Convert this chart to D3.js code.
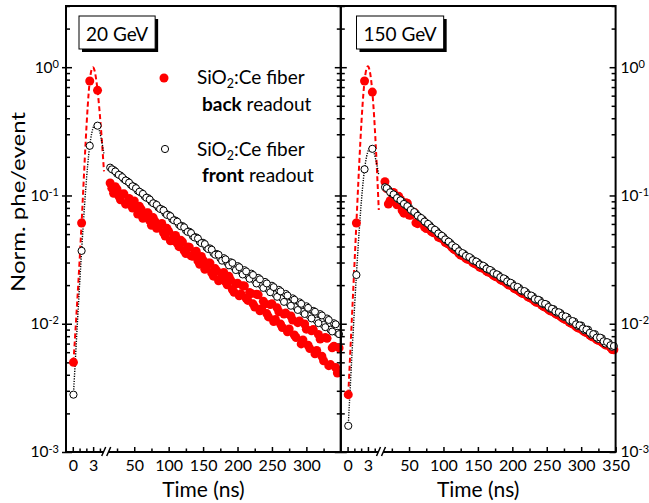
<!DOCTYPE html>
<html>
<head>
<meta charset="utf-8">
<script src="https://cdn.jsdelivr.net/npm/d3@7"></script>
<style>
  body { margin: 0; background: #fff; }
  svg { font-family: Lato, "Open Sans", sans-serif; }
</style>
</head>
<body>
<div id="chart"></div>
<script>
// Data (normalised phe/event vs time in ns)

// short segment of the broken x axis (rise of the pulse)
const peakTime = [0.1, 1.3, 2.5, 3.65, 4.6];
const back20Peak = [0.0050, 0.061, 0.78, 0.66, 0.154];
const front20Peak = [0.0028, 0.037, 0.244, 0.35, 0.21];
const back150Peak = [0.0028, 0.061, 0.78, 0.64, 0.077];
const front150Peak = [0.0016, 0.024, 0.16, 0.231, 0.144];

// long segment (decay tail), sampled on two interleaved time grids
const decayTime = [15, 20, 25, 30, 35, 40, 45, 50, 55, 60, 65, 70, 75, 80, 85, 90, 95, 100,
  105, 110, 115, 120, 125, 130, 135, 140, 145, 150, 155, 160, 165, 170, 175, 180, 185, 190,
  195, 200, 205, 210, 215, 220, 225, 230, 235, 240, 245, 250, 255, 260, 265, 270, 275, 280,
  285, 290, 295, 300, 305, 310, 315, 320, 325, 330, 335, 340, 345];
const decayTimeMid = [17.5, 22.5, 27.5, 32.5, 37.5, 42.5, 47.5, 52.5, 57.5, 62.5, 67.5, 72.5,
  77.5, 82.5, 87.5, 92.5, 97.5, 102.5, 107.5, 112.5, 117.5, 122.5, 127.5, 132.5, 137.5, 142.5,
  147.5, 152.5, 157.5, 162.5, 167.5, 172.5, 177.5, 182.5, 187.5, 192.5, 197.5, 202.5, 207.5,
  212.5, 217.5, 222.5, 227.5, 232.5, 237.5, 242.5, 247.5, 252.5, 257.5, 262.5, 267.5, 272.5,
  277.5, 282.5, 287.5, 292.5, 297.5, 302.5, 307.5, 312.5, 317.5, 322.5, 327.5, 332.5, 337.5,
  342.5, 347.5];

const front20Decay = [0.165, 0.158, 0.148, 0.143, 0.134, 0.129, 0.121, 0.117, 0.109, 0.105,
  0.0985, 0.0955, 0.0890, 0.0860, 0.0805, 0.0780, 0.0728, 0.0705, 0.0655, 0.0638, 0.0592,
  0.0578, 0.0535, 0.0522, 0.0482, 0.0472, 0.0436, 0.0428, 0.0393, 0.0387, 0.0355, 0.0350,
  0.0324, 0.0325, 0.0300, 0.0302, 0.0276, 0.0282, 0.0256, 0.0262, 0.0236, 0.0246, 0.0218,
  0.0228, 0.0200, 0.0212, 0.0185, 0.0198, 0.0170, 0.0184, 0.0158, 0.0171, 0.0145, 0.0158,
  0.0135, 0.0147, 0.0124, 0.0137, 0.0115, 0.0126, 0.0106, 0.0119, 0.0098, 0.0110, 0.0090,
  0.0101, 0.0085];
const front20Mid = [0.160, 0.154, 0.145, 0.139, 0.131, 0.126, 0.118, 0.114, 0.107, 0.103,
  0.0960, 0.0930, 0.0870, 0.0845, 0.0785, 0.0765, 0.0705, 0.0690, 0.0640, 0.0625, 0.0575,
  0.0565, 0.0520, 0.0510, 0.0470, 0.0462, 0.0425, 0.0418, 0.0382, 0.0378, 0.0345, 0.0345,
  0.0310, 0.0318, 0.0285, 0.0298, 0.0262, 0.0276, 0.0242, 0.0256, 0.0224, 0.0240, 0.0206,
  0.0222, 0.0190, 0.0206, 0.0176, 0.0193, 0.0162, 0.0179, 0.0148, 0.0166, 0.0138, 0.0154,
  0.0128, 0.0143, 0.0119, 0.0133, 0.0110, 0.0124, 0.0101, 0.0116, 0.0094, 0.0107, 0.0087,
  0.0099, 0.0083];

const back20Decay = [0.125, 0.104, 0.112, 0.0925, 0.103, 0.0862, 0.0846, 0.0905, 0.0716,
  0.0780, 0.0677, 0.0732, 0.0585, 0.0630, 0.0559, 0.0604, 0.0483, 0.0525, 0.0446, 0.0488,
  0.0399, 0.0434, 0.0353, 0.0395, 0.0336, 0.0367, 0.0291, 0.0313, 0.0273, 0.0297, 0.0235,
  0.0258, 0.0221, 0.0251, 0.0201, 0.0219, 0.0176, 0.0207, 0.0171, 0.0197, 0.0152, 0.0172,
  0.0135, 0.0168, 0.0131, 0.0143, 0.0113, 0.0143, 0.0108, 0.0124, 0.00935, 0.0121, 0.00909,
  0.0107, 0.00781, 0.0105, 0.00748, 0.00907, 0.0064, 0.0090, 0.00619, 0.00759, 0.00515,
  0.00769, 0.0048, 0.00667, 0.00413];
const back20Mid = [0.114, 0.117, 0.099, 0.102, 0.0856, 0.0949, 0.0799, 0.0809, 0.0823, 0.0664,
  0.0730, 0.0634, 0.0672, 0.0555, 0.0590, 0.0512, 0.0554, 0.0443, 0.0482, 0.0423, 0.0448,
  0.0371, 0.0397, 0.0339, 0.0352, 0.0309, 0.0334, 0.0266, 0.0297, 0.0249, 0.0269, 0.0216,
  0.0242, 0.0212, 0.0234, 0.0185, 0.0204, 0.0165, 0.0198, 0.0158, 0.0175, 0.0143, 0.0170,
  0.0126, 0.0150, 0.0120, 0.0141, 0.0104, 0.0133, 0.00994, 0.0119, 0.00865, 0.0115, 0.00817,
  0.0102, 0.00696, 0.00996, 0.00679, 0.00882, 0.00584, 0.00826, 0.00558, 0.0078, 0.00471,
  0.00649, 0.00456, 0.00648];

const front150Decay = [0.116, 0.111, 0.1035, 0.0995, 0.0932, 0.0895, 0.0840, 0.0805, 0.0755,
  0.0724, 0.0679, 0.0651, 0.0611, 0.0585, 0.0549, 0.0527, 0.0494, 0.0474, 0.0445, 0.0426,
  0.0400, 0.0383, 0.0359, 0.0350, 0.0333, 0.0324, 0.0308, 0.0300, 0.0285, 0.0278, 0.0264,
  0.0258, 0.0244, 0.0239, 0.0226, 0.0222, 0.0209, 0.0205, 0.0194, 0.0190, 0.0179, 0.0176,
  0.0166, 0.0163, 0.0153, 0.0152, 0.0142, 0.0141, 0.0131, 0.0130, 0.0122, 0.0121, 0.0113,
  0.0112, 0.0104, 0.0104, 0.0096, 0.0097, 0.0089, 0.0090, 0.0082, 0.0083, 0.0076, 0.0077,
  0.0070, 0.0071, 0.0066];
const front150Mid = [0.114, 0.106, 0.102, 0.0955, 0.0918, 0.0860, 0.0826, 0.0772, 0.0743,
  0.0695, 0.0668, 0.0626, 0.0601, 0.0562, 0.0541, 0.0506, 0.0486, 0.0455, 0.0437, 0.0410,
  0.0394, 0.0368, 0.0356, 0.0338, 0.0331, 0.0313, 0.0306, 0.0290, 0.0284, 0.0269, 0.0263,
  0.0249, 0.0243, 0.0231, 0.0226, 0.0214, 0.0209, 0.0197, 0.0194, 0.0182, 0.0180, 0.0169,
  0.0166, 0.0156, 0.0154, 0.0145, 0.0143, 0.0135, 0.0131, 0.0125, 0.0123, 0.0116, 0.0114,
  0.0107, 0.0105, 0.0099, 0.0097, 0.0092, 0.0090, 0.0085, 0.0083, 0.0078, 0.0078, 0.0073,
  0.0072, 0.0068, 0.0067];

const back150Decay = [0.128, 0.0858, 0.104, 0.089, 0.0985, 0.0765, 0.0878, 0.0704, 0.0736,
  0.0612, 0.0635, 0.0635, 0.0553, 0.0565, 0.0513, 0.0503, 0.0467, 0.0457, 0.0425, 0.0411,
  0.0382, 0.0370, 0.0343, 0.0334, 0.0318, 0.0312, 0.0295, 0.0286, 0.0273, 0.0268, 0.0253,
  0.0246, 0.0234, 0.0230, 0.0217, 0.0211, 0.0200, 0.0197, 0.0186, 0.0180, 0.0172, 0.0169,
  0.0160, 0.0155, 0.0147, 0.0146, 0.0137, 0.0133, 0.0126, 0.0124, 0.0118, 0.0114, 0.0109,
  0.0107, 0.0101, 0.0098, 0.0093, 0.0092, 0.00865, 0.00845, 0.00798, 0.00786, 0.00741,
  0.0072, 0.00684, 0.00679, 0.0063];
const back150Mid = [0.113, 0.091, 0.1057, 0.0847, 0.0932, 0.0728, 0.0871, 0.0701, 0.0739,
  0.0603, 0.0632, 0.0568, 0.0574, 0.0522, 0.0522, 0.0474, 0.0465, 0.0431, 0.0418, 0.0392,
  0.0376, 0.0352, 0.0340, 0.0324, 0.0316, 0.0300, 0.0292, 0.0277, 0.0271, 0.0257, 0.0251,
  0.0238, 0.0231, 0.0221, 0.0215, 0.0205, 0.0199, 0.0189, 0.0184, 0.0175, 0.0171, 0.0162,
  0.0158, 0.0150, 0.0146, 0.0140, 0.0135, 0.0129, 0.0125, 0.0120, 0.0117, 0.0111, 0.0108,
  0.0103, 0.0100, 0.0095, 0.0092, 0.00884, 0.00854, 0.00817, 0.00787, 0.00751, 0.00739,
  0.00703, 0.00682, 0.00656, 0.00627];

// tick labels
const peakTicks = [0, 3];
const peakMinor = [1, 2, 4];
const decayMinor = [25, 75, 125, 175, 225, 275, 325];
const decayTicks20 = [50, 100, 150, 200, 250, 300];
const decayTicks150 = [50, 100, 150, 200, 250, 300, 350];
const yMajor = [1e-3, 1e-2, 1e-1, 1];

// layout
const width = 649;
const height = 503;
const margin = {left: 66, top: 6, bottom: 51};
const panelWidth = 274.8;
const splitWidth = 40.7;
const plotBottom = height - margin.bottom;
const fontFamily = "Lato, 'Open Sans', sans-serif";

const svg = d3.select("#chart")
  .append("svg")
  .attr("width", width)
  .attr("height", height)
  .attr("viewBox", [0, 0, width, height]);

const y = d3.scaleLog()
  .domain([1e-3, 3])
  .range([plotBottom, margin.top]);

const yMinor = y.ticks().filter(v => !yMajor.includes(v));
const tailTime = decayTime.concat(decayTimeMid);

const panels = [
  {label: "20 GeV", backPeak: back20Peak, frontPeak: front20Peak,
   backDecay: back20Decay.concat(back20Mid), frontDecay: front20Decay.concat(front20Mid),
   xTicks: decayTicks20, boxX: 13},
  {label: "150 GeV", backPeak: back150Peak, frontPeak: front150Peak,
   backDecay: back150Decay.concat(back150Mid), frontDecay: front150Decay.concat(front150Mid),
   xTicks: decayTicks150, boxX: 15.7}
];

// superscript labels 10^n
function powerLabels(g) {
  g.selectAll(".tick text").each(function(d) {
    const t = d3.select(this);
    t.text("10");
    t.append("tspan")
      .attr("dy", "-0.45em")
      .attr("font-size", 11)
      .text(Math.round(Math.log10(d)));
  });
}

function yAxis(x, orient, withLabels, cross) {
  const make = orient === "left" ? d3.axisLeft : d3.axisRight;
  svg.append("g")
    .attr("transform", `translate(${x},0)`)
    .call(make(y).tickValues(yMinor).tickSizeInner(-4).tickSizeOuter(0).tickFormat(""))
    .call(g => g.select(".domain").remove())
    .selectAll("line").attr("stroke-width", 1.5);

  const g = svg.append("g")
    .attr("transform", `translate(${x},0)`)
    .call(make(y).tickValues(yMajor).tickSizeInner(-6).tickSizeOuter(0)
      .tickPadding(orient === "left" ? 7 : 5).tickFormat(withLabels ? d => d : ""))
    .call(g => g.select(".domain").remove())
    .attr("font-family", fontFamily)
    .attr("font-size", 15.5);
  g.selectAll("line").attr("stroke-width", 1.5);
  if (cross) g.selectAll("line").attr("x1", orient === "left" ? -4 : 4);
  if (withLabels) g.call(powerLabels);
  else g.selectAll("text").remove();
}

panels.forEach((p, i) => {
  const x0 = margin.left + i * panelWidth;

  // the broken time axis: two linear pieces
  const xA = d3.scaleLinear().domain([-1, 5]).range([x0, x0 + splitWidth]);
  const xB = d3.scaleLinear().domain([10, 350]).range([x0 + splitWidth, x0 + panelWidth]);

  // x ticks (inward)
  [[xA, peakMinor, peakTicks], [xB, decayMinor, p.xTicks]].forEach(([sc, minor, major]) => {
    svg.append("g")
      .attr("transform", `translate(0,${plotBottom})`)
      .call(d3.axisBottom(sc).tickValues(minor).tickSizeInner(-3.5).tickSizeOuter(0).tickFormat(""))
      .call(g => g.select(".domain").remove())
      .selectAll("line").attr("stroke-width", 1.5);
    svg.append("g")
      .attr("transform", `translate(0,${plotBottom})`)
      .call(d3.axisBottom(sc).tickValues(major).tickSizeInner(-5).tickSizeOuter(0)
        .tickPadding(8).tickFormat(d => d))
      .call(g => g.select(".domain").remove())
      .attr("font-family", fontFamily)
      .attr("font-size", 16)
      .selectAll("line").attr("stroke-width", 1.5);
  });

  // y ticks on both sides of the panel
  yAxis(x0, "left", i === 0, i === 0);
  yAxis(x0 + panelWidth, "right", i === 1, false);

  // rising part: spline lines
  const lineA = d3.line()
    .x((d, j) => xA(peakTime[j]))
    .y(d => y(d))
    .curve(d3.curveNatural);

  svg.append("path")
    .datum(p.backPeak)
    .attr("d", lineA)
    .attr("fill", "none")
    .attr("stroke", "#ff0000")
    .attr("stroke-width", 2)
    .attr("stroke-dasharray", "5,3");

  svg.append("path")
    .datum(p.frontPeak)
    .attr("d", lineA)
    .attr("fill", "none")
    .attr("stroke", "#000")
    .attr("stroke-width", 1.4)
    .attr("stroke-dasharray", "1.2,1.3");

  // the last sample of the rise has no marker in the figure
  svg.selectAll(null)
    .data(p.backPeak.slice(0, 4))
    .enter()
    .append("circle")
      .attr("cx", (d, j) => xA(peakTime[j]))
      .attr("cy", d => y(d))
      .attr("r", 4.5)
      .attr("fill", "#ff0000");

  svg.selectAll(null)
    .data(p.frontPeak.slice(0, 4))
    .enter()
    .append("circle")
      .attr("cx", (d, j) => xA(peakTime[j]))
      .attr("cy", d => y(d))
      .attr("r", 3.6)
      .attr("fill", "#fff")
      .attr("stroke", "#000")
      .attr("stroke-width", 1);

  // decay tail
  svg.selectAll(null)
    .data(p.backDecay)
    .enter()
    .append("circle")
      .attr("cx", (d, j) => xB(tailTime[j]))
      .attr("cy", d => y(d))
      .attr("r", 4.5)
      .attr("fill", "#ff0000");

  svg.selectAll(null)
    .data(p.frontDecay)
    .enter()
    .append("circle")
      .attr("cx", (d, j) => xB(tailTime[j]))
      .attr("cy", d => y(d))
      .attr("r", 3.5)
      .attr("fill", "#fff")
      .attr("stroke", "#000")
      .attr("stroke-width", 1);

  // frame
  svg.append("rect")
    .attr("x", x0)
    .attr("y", margin.top)
    .attr("width", panelWidth)
    .attr("height", plotBottom - margin.top)
    .attr("fill", "none")
    .attr("stroke", "#000")
    .attr("stroke-width", 2);

  // axis break mark
  const xb = x0 + splitWidth;
  svg.append("path")
    .attr("d", `M${xb - 5},${plotBottom + 4} L${xb - 1},${plotBottom - 5} L${xb + 4},${plotBottom - 5} L${xb},${plotBottom + 4} Z`)
    .attr("fill", "#fff");
  svg.append("path")
    .attr("d", `M${xb - 5},${plotBottom + 4} L${xb - 1},${plotBottom - 5} M${xb},${plotBottom + 4} L${xb + 4},${plotBottom - 5}`)
    .attr("stroke", "#000")
    .attr("stroke-width", 1.5);

  // energy box with shadow
  const box = svg.append("g").attr("transform", `translate(${x0 + p.boxX},16)`);
  const shadow = box.append("rect").attr("x", 3).attr("y", 3).attr("height", 33).attr("fill", "#000");
  const frame = box.append("rect").attr("height", 33).attr("fill", "#fff")
    .attr("stroke", "#000").attr("stroke-width", 1);
  const txt = box.append("text")
    .attr("y", 25)
    .attr("font-size", 19)
    .attr("font-family", fontFamily)
    .text(p.label);
  const w = txt.node().getComputedTextLength() + 14;
  txt.attr("x", w / 2).attr("text-anchor", "middle");
  shadow.attr("width", w);
  frame.attr("width", w);

  // x title
  svg.append("text")
    .attr("x", x0 + panelWidth / 2)
    .attr("y", 497)
    .attr("text-anchor", "middle")
    .attr("font-size", 21)
    .attr("font-family", fontFamily)
    .text("Time (ns)");
});

// y title
svg.append("text")
  .attr("transform", "translate(25,202) rotate(-90)")
  .attr("text-anchor", "middle")
  .attr("font-size", 19)
  .attr("font-family", fontFamily)
  .attr("textLength", 180)
  .attr("lengthAdjust", "spacingAndGlyphs")
  .text("Norm. phe/event");

// legend
const legend = svg.append("g").attr("font-family", fontFamily).attr("font-size", 19);
legend.append("circle").attr("cx", 164).attr("cy", 78).attr("r", 4.5).attr("fill", "#ff0000");
legend.append("circle").attr("cx", 165).attr("cy", 149).attr("r", 3.6)
  .attr("fill", "#fff").attr("stroke", "#000").attr("stroke-width", 1);

[[84, 111, "back"], [156, 182, "front"]].forEach(([y1, y2, word]) => {
  const t1 = legend.append("text").attr("x", 197).attr("y", y1);
  t1.append("tspan").text("SiO");
  t1.append("tspan").attr("font-size", 12.5).attr("dy", 4).text("2");
  t1.append("tspan").attr("dy", -4).text(":Ce fiber");
  const t2 = legend.append("text").attr("x", 202).attr("y", y2);
  t2.append("tspan").attr("font-weight", "bold").text(word);
  t2.append("tspan").text(" readout");
});
</script>
</body>
</html>
